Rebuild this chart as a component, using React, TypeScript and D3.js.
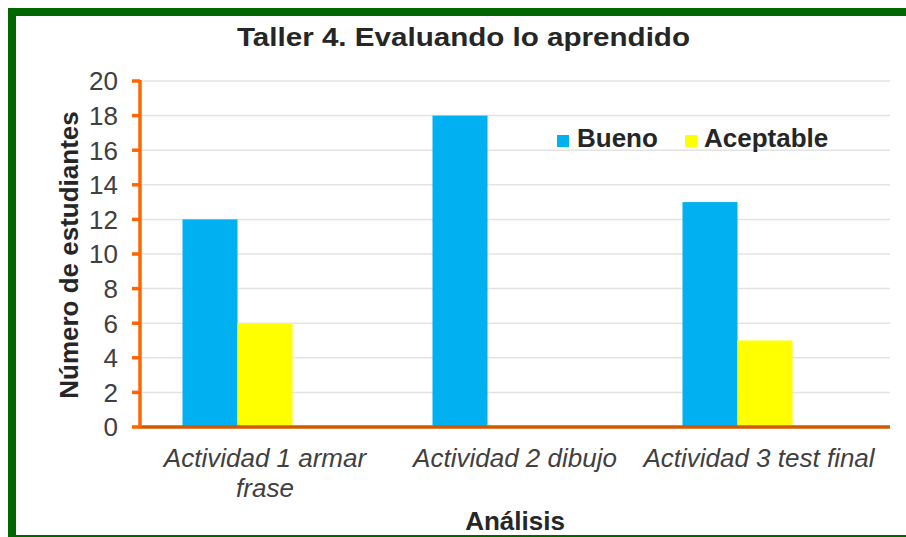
import * as d3 from 'd3';

const categories = ['Actividad 1 armar frase', 'Actividad 2 dibujo', 'Actividad 3 test final'];
const categoryLines = [['Actividad 1 armar', 'frase'], ['Actividad 2 dibujo'], ['Actividad 3 test final']];
const series = ['Bueno', 'Aceptable'];
const bueno = [12, 18, 13];
const aceptable = [6, 0, 5];
const yTicks = [0, 2, 4, 6, 8, 10, 12, 14, 16, 18, 20];

const colors: Record<string, string> = { Bueno: '#00B0F0', Aceptable: '#FFFF00' };
const font = '"Liberation Sans", Arial, sans-serif';
const textColor = '#404040';

export default function App() {
  const W = 906;
  const H = 537;
  const left = 140;
  const right = 890;
  const top = 81;
  const bottom = 427;

  const x0 = d3.scaleBand<string>().domain(categories).range([left, right]).paddingInner(0.34).paddingOuter(0.17);
  // third slot is an empty series slot, as in the source chart
  const x1 = d3.scaleBand<string>().domain([...series, '_']).range([0, x0.bandwidth()]);
  const y = d3.scaleLinear().domain([0, 20]).range([bottom, top]);

  const values: Record<string, number[]> = { Bueno: bueno, Aceptable: aceptable };
  const labelX = (c: string, i: number) => (x0(c) ?? 0) + x0.bandwidth() / 2 - (i === 2 ? 6 : 0);

  return (
    <div style={{ position: 'absolute', left: 0, top: 0 }}>
      <svg width={W} height={H} style={{ display: 'block', background: '#fff' }}>
        <rect x={12} y={12} width={910} height={527} fill="#fff" stroke="#006600" strokeWidth={8} />

        <text
          x={463.5}
          y={46}
          textAnchor="middle"
          fontFamily={font}
          fontWeight="bold"
          fontSize={26}
          fill="#262626"
          textLength={453}
          lengthAdjust="spacingAndGlyphs"
        >
          Taller 4. Evaluando lo aprendido
        </text>

        {yTicks.filter((t) => t > 0).map((t) => (
          <line key={t} x1={left} x2={right} y1={y(t)} y2={y(t)} stroke="#E3E3E3" strokeWidth={1.5} />
        ))}

        {categories.map((c, i) =>
          series.map((s) => {
            const v = values[s][i];
            if (!v) return null;
            return (
              <rect
                key={c + s}
                x={(x0(c) ?? 0) + (x1(s) ?? 0)}
                y={y(v)}
                width={x1.bandwidth()}
                height={y(0) - y(v)}
                fill={colors[s]}
              />
            );
          })
        )}

        <line x1={left} x2={right} y1={y(0)} y2={y(0)} stroke="#D05A00" strokeWidth={3.5} />
        <line x1={left} x2={left} y1={y(20) - 1} y2={y(0) + 1.5} stroke="#FF6600" strokeWidth={3.5} />
        {yTicks.map((t) => (
          <g key={t}>
            <line x1={132} x2={left} y1={y(t)} y2={y(t)} stroke="#FF6600" strokeWidth={3.5} />
            <text x={118} y={y(t)} dy="0.36em" textAnchor="end" fontFamily={font} fontSize={26} fill={textColor}>
              {t}
            </text>
          </g>
        ))}

        {categories.map((c, i) => (
          <text
            key={c}
            x={labelX(c, i)}
            y={467}
            textAnchor="middle"
            fontFamily={font}
            fontStyle="italic"
            fontSize={26}
            fill={textColor}
          >
            {categoryLines[i].map((line, j) => (
              <tspan key={j} x={labelX(c, i)} dy={j === 0 ? 0 : 30}>
                {line}
              </tspan>
            ))}
          </text>
        ))}

        <text x={515} y={530} textAnchor="middle" fontFamily={font} fontWeight="bold" fontSize={26} fill="#262626">
          Análisis
        </text>

        <text
          transform={`translate(78,${(top + bottom) / 2 + 1}) rotate(-90)`}
          textAnchor="middle"
          fontFamily={font}
          fontWeight="bold"
          fontSize={26}
          fill="#262626"
        >
          Número de estudiantes
        </text>

        <g fontFamily={font} fontWeight="bold" fontSize={26} fill="#262626">
          <rect x={557} y={135} width={12} height={12} fill={colors.Bueno} />
          <text x={577} y={147}>Bueno</text>
          <rect x={685} y={135} width={12} height={12} fill={colors.Aceptable} />
          <text x={704} y={147}>Aceptable</text>
        </g>
      </svg>
    </div>
  );
}
